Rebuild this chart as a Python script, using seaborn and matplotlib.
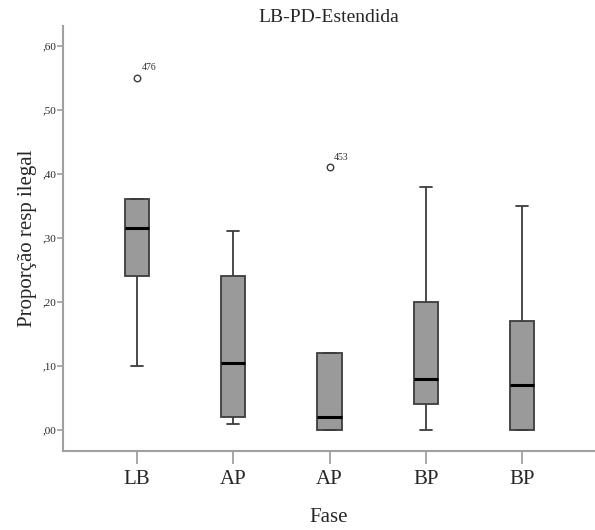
import numpy as np
import pandas as pd
import matplotlib
matplotlib.use("Agg")
import matplotlib.pyplot as plt
import seaborn as sns

# resumo de cinco números (por grupo)
fases = ["LB", "AP", "AP", "BP", "BP"]
grupos = ["LB", "AP1", "AP2", "BP1", "BP2"]
minimo = [0.10, 0.01, 0.00, 0.00, 0.00]
q1 = [0.24, 0.02, 0.00, 0.04, 0.00]
mediana = [0.315, 0.105, 0.02, 0.08, 0.07]
q3 = [0.36, 0.24, 0.12, 0.20, 0.17]
maximo = [0.36, 0.31, 0.12, 0.38, 0.35]

# valores atípicos
outlier_grupo = ["LB", "AP2"]
outlier_valor = [0.55, 0.41]
outlier_id = ["476", "453"]

yticks = [0.0, 0.1, 0.2, 0.3, 0.4, 0.5, 0.6]

rows = []
for g, a, b, c, d, e in zip(grupos, minimo, q1, mediana, q3, maximo):
    for v in (a, b, c, d, e):
        rows.append({"grupo": g, "valor": v})
df = pd.DataFrame(rows)

sns.set_style("white")
plt.rcParams["font.family"] = ["Liberation Serif", "DejaVu Serif"]

fig = plt.figure(figsize=(5.95, 5.30), dpi=100)
ax = fig.add_axes([0.106, 0.149, 0.894, 0.802])

sns.boxplot(data=df, x="grupo", y="valor", order=grupos, whis=(0, 100),
            color="#9a9a9a", saturation=1, linecolor="#3c3c3c", linewidth=1.3,
            width=0.25, fliersize=0,
            medianprops=dict(color="black", linewidth=2.2), ax=ax)

# pontos atípicos com rótulos
ox = [grupos.index(g) for g in outlier_grupo]
ax.scatter(ox, outlier_valor, s=22, facecolors="white", edgecolors="#3c3c3c",
           linewidths=1.0, zorder=5)
for x, y, lab in zip(ox, outlier_valor, outlier_id):
    ax.annotate(lab, (x, y), xytext=(3, 4), textcoords="offset points",
                fontsize=7, color="#333333", ha="left", va="bottom")

ax.set_xlim(-0.77, 4.76)
ax.set_ylim(-0.033, 0.631)
ax.set_yticks(yticks)
ax.set_yticklabels([("%.2f" % t).replace("0.", ",") for t in yticks], fontsize=8)
ax.set_xticks(range(len(fases)))
ax.set_xticklabels(fases, fontsize=15)

for s in ["top", "right"]:
    ax.spines[s].set_visible(False)
for s in ["left", "bottom"]:
    ax.spines[s].set_color("#a0a0a0")
    ax.spines[s].set_linewidth(1.5)

ax.tick_params(axis="x", length=9, width=1.3, color="#a0a0a0", pad=5, bottom=True)
ax.tick_params(axis="y", length=4, width=1.2, color="#a0a0a0", pad=1, left=True)

ax.set_xlabel("Fase", fontsize=15, labelpad=13)
ax.set_ylabel("Proporção resp ilegal", fontsize=15, labelpad=4)
ax.set_title("LB-PD-Estendida", fontsize=14, pad=3)

plt.savefig("out.png", dpi=100)
